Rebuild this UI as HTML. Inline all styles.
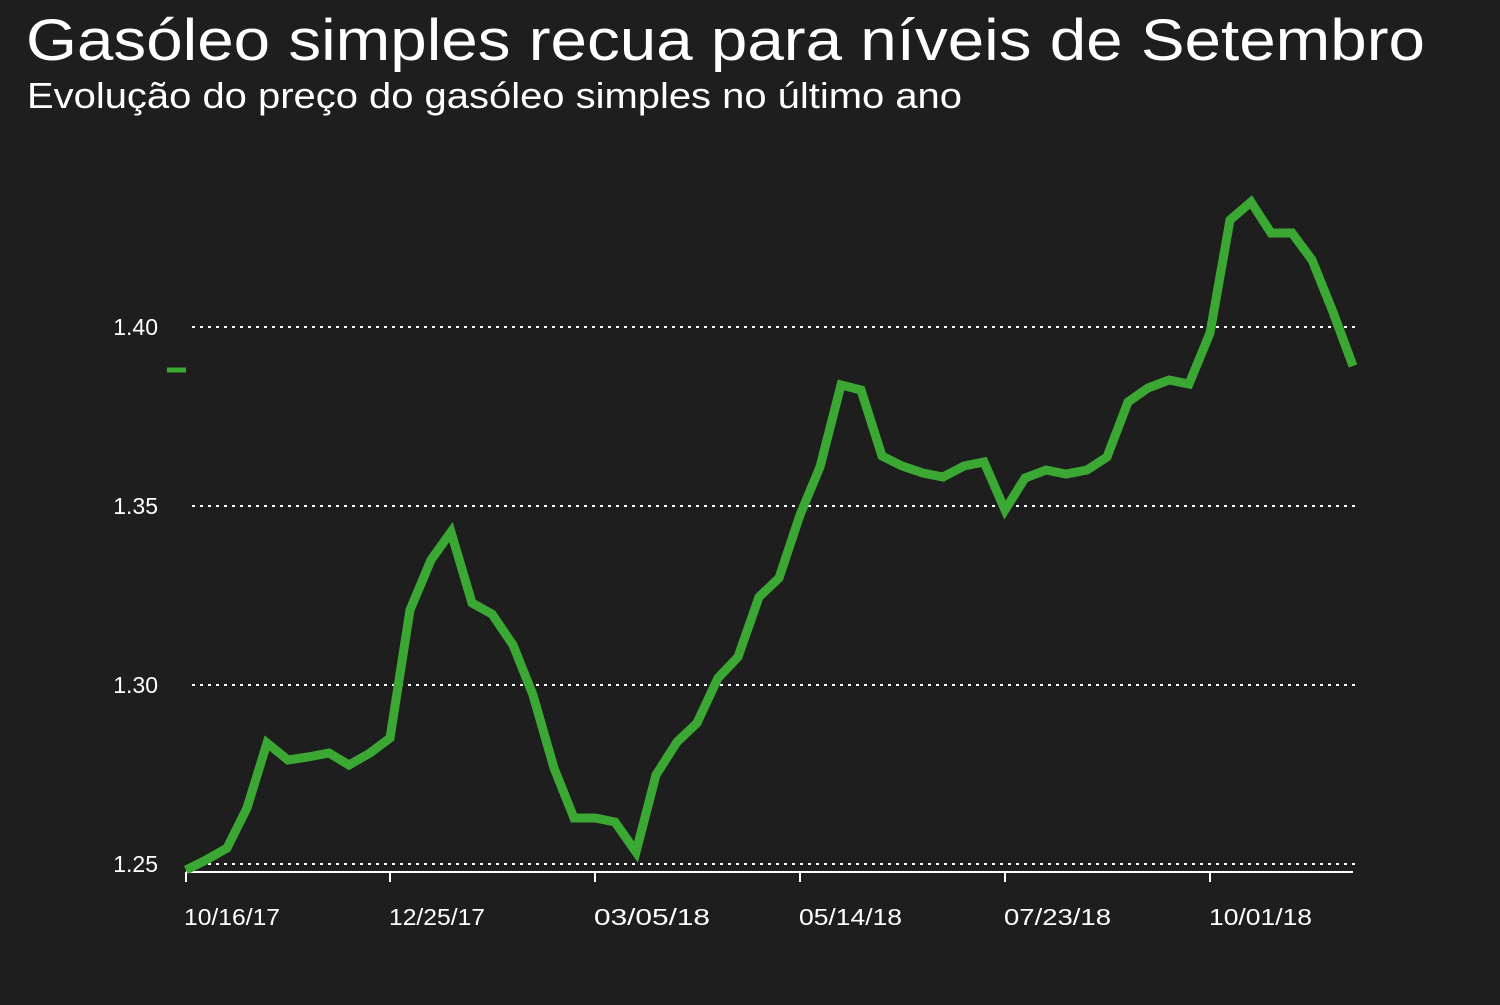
<!DOCTYPE html>
<html><head><meta charset="utf-8"><style>
html,body{margin:0;padding:0;background:#1e1e1e;}
body{width:1500px;height:1000px;overflow:hidden;font-family:"Liberation Sans",sans-serif;}
</style></head><body>
<svg width="1500" height="1000" xmlns="http://www.w3.org/2000/svg">
<rect width="1500" height="1000" fill="#1e1e1e"/>
<text x="26" y="60" font-size="58" fill="#ffffff" textLength="1399" lengthAdjust="spacingAndGlyphs" font-family="Liberation Sans, sans-serif">Gasóleo simples recua para níveis de Setembro</text>
<text x="27" y="108" font-size="36" fill="#ffffff" textLength="935" lengthAdjust="spacingAndGlyphs" font-family="Liberation Sans, sans-serif">Evolução do preço do gasóleo simples no último ano</text>
<g stroke="#ffffff" stroke-width="2" stroke-dasharray="3,5">
<line x1="192" y1="327" x2="1355" y2="327"/>
<line x1="192" y1="506" x2="1355" y2="506"/>
<line x1="192" y1="685" x2="1355" y2="685"/>
<line x1="192" y1="864" x2="1355" y2="864"/>
</g>
<g fill="#ffffff" font-size="23" text-anchor="end" font-family="Liberation Sans, sans-serif">
<text x="158" y="335">1.40</text>
<text x="158" y="514">1.35</text>
<text x="158" y="693">1.30</text>
<text x="158" y="872">1.25</text>
</g>
<line x1="186" y1="872" x2="1353" y2="872" stroke="#ffffff" stroke-width="2"/>
<g stroke="#ffffff" stroke-width="2">
<line x1="186" y1="872" x2="186" y2="882"/>
<line x1="390" y1="872" x2="390" y2="882"/>
<line x1="595" y1="872" x2="595" y2="882"/>
<line x1="800" y1="872" x2="800" y2="882"/>
<line x1="1005" y1="872" x2="1005" y2="882"/>
<line x1="1210" y1="872" x2="1210" y2="882"/>
</g>
<g fill="#ffffff" font-size="23" font-family="Liberation Sans, sans-serif">
<text x="184" y="925" textLength="96" lengthAdjust="spacingAndGlyphs">10/16/17</text>
<text x="389" y="925" textLength="96" lengthAdjust="spacingAndGlyphs">12/25/17</text>
<text x="594" y="925" textLength="116" lengthAdjust="spacingAndGlyphs">03/05/18</text>
<text x="799" y="925" textLength="103" lengthAdjust="spacingAndGlyphs">05/14/18</text>
<text x="1004" y="925" textLength="107" lengthAdjust="spacingAndGlyphs">07/23/18</text>
<text x="1209" y="925" textLength="103" lengthAdjust="spacingAndGlyphs">10/01/18</text>
</g>
<line x1="167" y1="370" x2="186" y2="370" stroke="#3aa832" stroke-width="5"/>
<polyline fill="none" stroke="#3aa832" stroke-width="9" stroke-linejoin="miter" points="186,870 206,860 227,848 247,808 267,743 288,760 308,757 329,753 349,765 370,753 390,738 410,610 431,560 451,532 472,603 492,614 513,645 533,695 554,768 574,818 595,818 615,822 636,852 656,775 677,742 697,723 718,678 738,657 759,597 779,578 800,515 820,467 841,385 861,390 882,456 902,466 923,473 943,477 964,466 984,462 1005,510 1025,478 1046,470 1066,474 1087,470 1107,457 1128,402 1148,388 1169,380 1189,384 1210,333 1230,220 1251,202 1271,233 1292,233 1312,260 1333,312 1353,366"/>
</svg>
</body></html>
